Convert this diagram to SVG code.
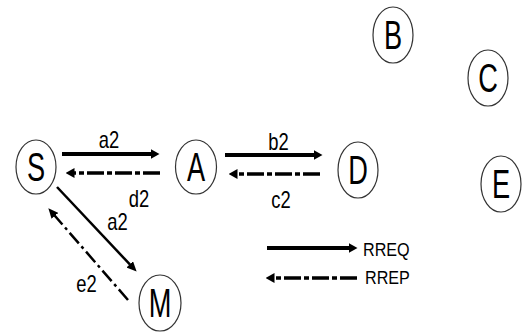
<svg xmlns="http://www.w3.org/2000/svg" width="524" height="333" viewBox="0 0 524 333">
<style>
.node{fill:#fff;stroke:#333;stroke-width:1.2}
.nl{font-family:"Liberation Sans",Arial,sans-serif;font-size:40px;fill:#000;text-anchor:middle}
.lb{font-family:"Liberation Sans",Arial,sans-serif;font-size:23px;fill:#000;text-anchor:middle}
.lg{font-family:"Liberation Sans",Arial,sans-serif;font-size:19px;fill:#000}
.req{stroke:#000;stroke-width:4;fill:none}
.rep{stroke:#000;stroke-width:3.5;fill:none;stroke-dasharray:17 3 5 3}
.reqd{stroke:#000;stroke-width:2.5;fill:none}
.repd{stroke:#000;stroke-width:2.5;fill:none;stroke-dasharray:14 4 3 4}
</style>
<defs>
<marker id="ah" viewBox="0 0 9 10" refX="0.5" refY="5" markerWidth="9" markerHeight="10" markerUnits="userSpaceOnUse" orient="auto">
<path d="M0,0 L9,5 L0,10 z" fill="#000"/>
</marker>
<marker id="ahd" viewBox="0 0 10 9" refX="0.5" refY="4.5" markerWidth="10" markerHeight="9" markerUnits="userSpaceOnUse" orient="auto">
<path d="M0,0 L10,4.5 L0,9 z" fill="#000"/>
</marker>
</defs>
<g id="connectors">
<line class="req" x1="62" y1="154" x2="151" y2="154" marker-end="url(#ah)"/>
<line class="rep" x1="160" y1="173" x2="74" y2="173" marker-end="url(#ah)"/>
<line class="req" x1="225" y1="155" x2="314" y2="155" marker-end="url(#ah)"/>
<line class="rep" x1="320" y1="174" x2="237" y2="174" marker-end="url(#ah)"/>
<line class="reqd" x1="57" y1="187" x2="130.1" y2="264.7" marker-end="url(#ahd)"/>
<line class="repd" x1="128" y1="300" x2="54.6" y2="215.5" marker-end="url(#ahd)"/>
<line class="req" x1="267" y1="248" x2="349" y2="248" marker-end="url(#ah)"/>
<line class="rep" x1="357" y1="278" x2="274" y2="278" marker-end="url(#ah)"/>
</g>
<g id="labels">
<text class="lb" transform="translate(109,148) scale(0.8,1)">a2</text>
<text class="lb" transform="translate(278.5,150) scale(0.8,1)">b2</text>
<text class="lb" transform="translate(281,208) scale(0.8,1)">c2</text>
<text class="lb" transform="translate(139,207) scale(0.8,1)">d2</text>
<text class="lb" transform="translate(117.5,230) scale(0.8,1)">a2</text>
<text class="lb" transform="translate(86.5,292) scale(0.8,1)">e2</text>
</g>
<g id="legend">
<text class="lg" transform="translate(363,256) scale(0.85,1)">RREQ</text>
<text class="lg" transform="translate(365,284) scale(0.85,1)">RREP</text>
</g>
<g id="node-S"><ellipse class="node" cx="36" cy="167" rx="20" ry="27"/><text class="nl" transform="translate(36,181) scale(0.68,1)">S</text></g>
<g id="node-A"><ellipse class="node" cx="196" cy="167" rx="20.5" ry="27"/><text class="nl" transform="translate(196,181) scale(0.68,1)">A</text></g>
<g id="node-D"><ellipse class="node" cx="358" cy="170" rx="20" ry="28"/><text class="nl" transform="translate(358,184) scale(0.68,1)">D</text></g>
<g id="node-B"><ellipse class="node" cx="393" cy="35" rx="20" ry="28"/><text class="nl" transform="translate(393,49) scale(0.68,1)">B</text></g>
<g id="node-C"><ellipse class="node" cx="488" cy="78" rx="20" ry="28"/><text class="nl" transform="translate(488,92) scale(0.68,1)">C</text></g>
<g id="node-E"><ellipse class="node" cx="501" cy="184" rx="20" ry="28"/><text class="nl" transform="translate(501,198) scale(0.68,1)">E</text></g>
<g id="node-M"><ellipse class="node" cx="160" cy="303" rx="21" ry="28"/><text class="nl" transform="translate(160,317) scale(0.68,1)">M</text></g>
</svg>
